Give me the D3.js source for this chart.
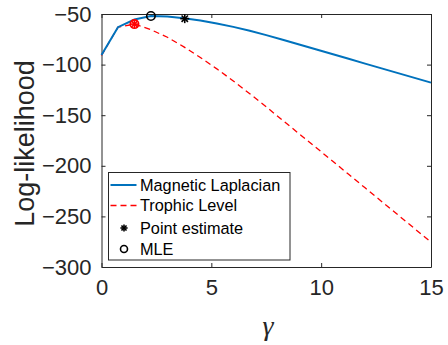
<!DOCTYPE html>
<html>
<head>
<meta charset="utf-8">
<script src="https://cdn.jsdelivr.net/npm/d3@7"></script>
<style>
  body { margin: 0; background: #fff; }
  svg { display: block; font-family: Arial, "Liberation Sans", Helvetica, sans-serif; }
</style>
</head>
<body>
<svg id="chart" width="448" height="345"></svg>
<script>
// gamma grid (0:0.75:15)
var gammas = [0, 0.75, 1.5, 2.25, 3, 3.75, 4.5, 5.25, 6, 6.75, 7.5, 8.25, 9, 9.75, 10.5, 11.25, 12, 12.75, 13.5, 14.25, 15];
var magLap = [-90.5, -63, -55.5, -52, -52.4, -54.1, -56.4, -59.3, -62.7, -66.6, -70.9, -75.5, -80.2, -84.9, -89.6, -94.3, -99, -103.7, -108.4, -113.1, -117.8];
var trophic = [-91, -63, -60, -65.5, -73, -82.5, -93, -104.2, -116.2, -128.8, -141.8, -155.1, -168.4, -181.7, -195, -208.4, -221.8, -235.2, -248.6, -262, -275.5];
var pointEst = [3.79, -54.6];
var mle = [2.25, -52];
var trophicEst = [1.5, -60];
var xTicks = [0, 5, 10, 15];
var yTicks = [-50, -100, -150, -200, -250, -300];
var legendNames = ["Magnetic Laplacian", "Trophic Level", "Point estimate", "MLE"];

var axisCol = "#262626";
var blue = "#0072BD", red = "#FF0000";

var svg = d3.select("#chart");
var plotL = 101.5, plotR = 431, plotT = 14, plotB = 267;

var x = d3.scaleLinear().domain([0, 15]).range([plotL, plotR]);
var y = d3.scaleLinear().domain([-300, -50]).range([plotB, plotT]);

// axes
svg.append("g")
    .attr("transform", "translate(0," + plotB + ")")
    .call(d3.axisBottom(x).tickValues(xTicks).tickSizeInner(-4).tickSizeOuter(0).tickPadding(12))
    .call(function (g) {
        g.select(".domain").attr("stroke", axisCol);
        g.selectAll(".tick line").attr("stroke", axisCol);
        g.selectAll("text").attr("fill", axisCol).style("font-size", "22px");
    });
svg.append("g")
    .attr("transform", "translate(0," + plotT + ")")
    .call(d3.axisTop(x).tickValues(xTicks).tickSizeInner(-4).tickSizeOuter(0).tickFormat(""))
    .call(function (g) {
        g.select(".domain").attr("stroke", axisCol);
        g.selectAll(".tick line").attr("stroke", axisCol);
    });
svg.append("g")
    .attr("transform", "translate(" + plotL + ",0)")
    .call(d3.axisLeft(y).tickValues(yTicks).tickSizeInner(-4).tickSizeOuter(0).tickPadding(10))
    .call(function (g) {
        g.select(".domain").attr("stroke", axisCol);
        g.selectAll(".tick line").attr("stroke", axisCol);
        g.selectAll("text").attr("fill", axisCol).style("font-size", "22px");
    });
svg.append("g")
    .attr("transform", "translate(" + plotR + ",0)")
    .call(d3.axisRight(y).tickValues(yTicks).tickSizeInner(-4).tickSizeOuter(0).tickFormat(""))
    .call(function (g) {
        g.select(".domain").attr("stroke", axisCol);
        g.selectAll(".tick line").attr("stroke", axisCol);
    });

// labels
svg.append("text")
    .attr("transform", "translate(34,143.5)rotate(-90)")
    .attr("text-anchor", "middle")
    .attr("fill", axisCol)
    .style("font-size", "27px")
    .text("Log-likelihood");

svg.append("text")
    .attr("x", 268)
    .attr("y", 335)
    .attr("text-anchor", "middle")
    .attr("fill", axisCol)
    .style("font-family", "'Liberation Serif', 'DejaVu Serif', serif")
    .style("font-style", "italic")
    .style("font-size", "28px")
    .text("γ");

// lines
var line = d3.line()
    .x(function (d) { return x(d[0]); })
    .y(function (d) { return y(d[1]); });

svg.append("path")
    .datum(gammas.map(function (g, i) { return [g, trophic[i]]; }))
    .attr("d", line)
    .attr("fill", "none")
    .attr("stroke", red)
    .attr("stroke-width", 1.3)
    .attr("stroke-dasharray", "6,4");

svg.append("path")
    .datum(gammas.map(function (g, i) { return [g, magLap[i]]; }))
    .attr("d", line)
    .attr("fill", "none")
    .attr("stroke", blue)
    .attr("stroke-width", 2);

// markers
function star(cx, cy, r, col) {
    var g = svg.append("g").attr("stroke", col).attr("stroke-width", 1.6);
    [0, 45, 90, 135].forEach(function (a) {
        var rad = a * Math.PI / 180;
        g.append("line")
            .attr("x1", cx - r * Math.cos(rad)).attr("y1", cy - r * Math.sin(rad))
            .attr("x2", cx + r * Math.cos(rad)).attr("y2", cy + r * Math.sin(rad));
    });
}
function circ(cx, cy, r, col) {
    svg.append("circle")
        .attr("cx", cx).attr("cy", cy).attr("r", r)
        .attr("fill", "none").attr("stroke", col).attr("stroke-width", 1.6);
}

star(x(trophicEst[0]), y(trophicEst[1]), 4.5, red);
circ(x(trophicEst[0]), y(trophicEst[1]), 4.2, red);
star(x(pointEst[0]), y(pointEst[1]), 4.5, "#000");
circ(x(mle[0]), y(mle[1]), 4.2, "#000");

// legend
var lg = svg.append("g").attr("transform", "translate(108.5,172.5)");
lg.append("rect")
    .attr("width", 181.5).attr("height", 87.5)
    .attr("fill", "#fff").attr("stroke", axisCol).attr("stroke-width", 1);

var rowY = [12.5, 33, 55.5, 76.5];
lg.append("line").attr("x1", 2).attr("x2", 28).attr("y1", rowY[0]).attr("y2", rowY[0])
    .attr("stroke", blue).attr("stroke-width", 2);
lg.append("line").attr("x1", 2).attr("x2", 28).attr("y1", rowY[1]).attr("y2", rowY[1])
    .attr("stroke", red).attr("stroke-width", 1.3).attr("stroke-dasharray", "6,4");

lg.selectAll("text.leg")
    .data(legendNames)
    .enter()
    .append("text")
    .attr("class", "leg")
    .attr("x", 31.5)
    .attr("y", function (d, i) { return rowY[i]; })
    .attr("dy", "0.36em")
    .attr("fill", "#000")
    .style("font-size", "16.3px")
    .text(function (d) { return d; });

star(108.5 + 15.5, 172.5 + rowY[2], 3.6, "#000");
circ(108.5 + 15.5, 172.5 + rowY[3], 3.5, "#000");
</script>
</body>
</html>
